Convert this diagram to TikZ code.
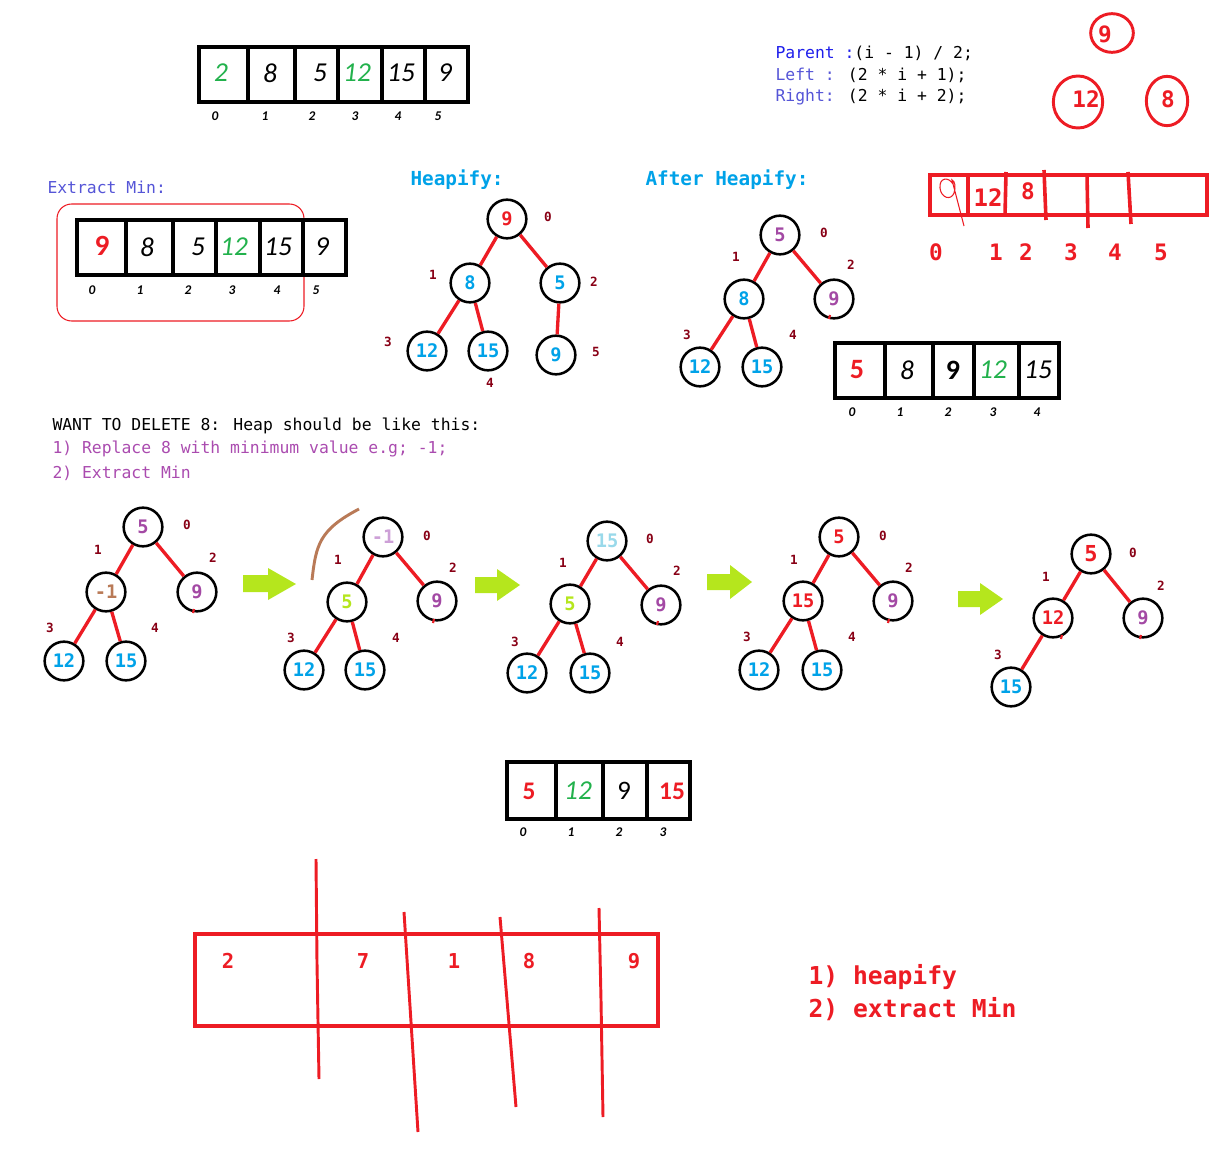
\documentclass[tikz,border=0pt]{standalone}
\usepackage{fontspec}
\setmainfont{Carlito}
\newfontfamily\consfont{DejaVu Sans Mono}
\usetikzlibrary{shapes.geometric}

\definecolor{pred}{RGB}{237,28,36}
\definecolor{pgreen}{RGB}{34,177,76}
\definecolor{pblue}{RGB}{0,162,232}
\definecolor{ppurple}{RGB}{163,73,164}
\definecolor{pdarkred}{RGB}{136,0,21}
\definecolor{pbrown}{RGB}{185,122,87}
\definecolor{plime}{RGB}{181,230,29}
\definecolor{plightblue}{RGB}{153,217,234}
\definecolor{plilac}{RGB}{205,160,215}
\definecolor{codeblue}{RGB}{30,30,235}
\definecolor{codepurple}{RGB}{85,85,215}
\definecolor{notepurple}{RGB}{170,75,175}

\tikzset{every picture/.style={line width=0.75pt}}
\tikzset{
  heapnode/.style={circle, draw=black, line width=1.9pt, minimum size=29pt, inner sep=0pt,
    font=\consfont\bfseries\fontsize{14}{14}\selectfont},
  heapedge/.style={draw=pred, line width=2.5pt},
  heaptick/.style={draw=pred, line width=1.6pt},
  idxlabel/.style={text=pdarkred, font=\consfont\bfseries\fontsize{9.5}{9.5}\selectfont},
  cellline/.style={draw=black, line width=3.3pt},
  arrdigit/.style={font=\itshape\fontsize{20.5}{20.5}\selectfont},
  arrbold/.style={font=\bfseries\fontsize{22}{22}\selectfont},
  arrindex/.style={font=\bfseries\itshape\fontsize{10}{10}\selectfont},
  codeline/.style={anchor=west, inner sep=0pt, font=\consfont\fontsize{12.3}{12.3}\selectfont},
  titleline/.style={anchor=west, inner sep=0pt, text=pblue, font=\consfont\bfseries\fontsize{14.5}{14.5}\selectfont},
  redpen/.style={draw=pred, line width=2.7pt},
  redring/.style={ellipse, draw=pred, line width=2.2pt, inner sep=0pt},
  reddigit/.style={text=pred, font=\consfont\bfseries\fontsize{17}{17}\selectfont},
  greenarrow/.style={fill=plime, draw=none},
}

\begin{document}
\begin{tikzpicture}[x=0.75pt,y=0.75pt,yscale=-1,xscale=1]
	\useasboundingbox (0,0) rectangle (1231,1169);

	%Shape: Array (top)
	\draw[cellline] (199,47) rectangle (468,102);
	\draw[cellline] (248,47) -- (248,102) (295,47) -- (295,102) (338,47) -- (338,102) (382,47) -- (382,102) (425,47) -- (425,102);
	% Text Node
	\draw (221,73) node[arrdigit, text=pgreen] (ta0) {2};
	\draw (270,73) node[arrdigit] (ta1) {8};
	\draw (320,73) node[arrdigit] (ta2) {5};
	\draw (357,73) node[arrdigit, text=pgreen] (ta3) {12};
	\draw (401,73) node[arrdigit] (ta4) {15};
	\draw (445,73) node[arrdigit] (ta5) {9};
	% Text Node
	\draw (215,116) node[arrindex] (ti0) {0};
	\draw (265,116) node[arrindex] (ti1) {1};
	\draw (312,116) node[arrindex] (ti2) {2};
	\draw (355,116) node[arrindex] (ti3) {3};
	\draw (398,116) node[arrindex] (ti4) {4};
	\draw (438,116) node[arrindex] (ti5) {5};

	% Text Node
	\draw (775,53) node[codeline] (parent) {\textcolor{codeblue}{Parent :}(i - 1) / 2;};
	\draw (775,75) node[codeline] (left) {\textcolor{codepurple}{Left :} (2 * i + 1);};
	\draw (775,97) node[codeline] (right) {\textcolor{codepurple}{Right:} (2 * i + 2);};

	%Shape: Ellipse
	\draw (1112,33) node[redring, minimum width=32pt, minimum height=29pt] (ring9) {};
	\draw (1078,102) node[redring, minimum width=37pt, minimum height=39pt] (ring12) {};
	\draw (1167,101) node[redring, minimum width=31pt, minimum height=37pt] (ring8) {};
	% Text Node
	\draw (1105,34) node[reddigit] (ringt9) {9};
	\draw (1086,99) node[reddigit] (ringt12) {12};
	\draw (1168,99) node[reddigit] (ringt8) {8};

	% Text Node
	\draw (47,187) node[codeline, text=codepurple] (extract) {Extract Min:};
	%Rounded Rect
	\draw[pred, line width=0.8pt, rounded corners=11pt] (57,204) rectangle (304,321);
	%Shape: Array (extract min)
	\draw[cellline] (77,220) rectangle (346,275);
	\draw[cellline] (126,220) -- (126,275) (173,220) -- (173,275) (216,220) -- (216,275) (260,220) -- (260,275) (303,220) -- (303,275);
	% Text Node
	\draw (102,246) node[arrbold, text=pred] (ea0) {9};
	\draw (147,247) node[arrdigit] (ea1) {8};
	\draw (198,247) node[arrdigit] (ea2) {5};
	\draw (234,247) node[arrdigit, text=pgreen] (ea3) {12};
	\draw (278,247) node[arrdigit] (ea4) {15};
	\draw (322,247) node[arrdigit] (ea5) {9};
	% Text Node
	\draw (92,290) node[arrindex] (ei0) {0};
	\draw (140,290) node[arrindex] (ei1) {1};
	\draw (188,290) node[arrindex] (ei2) {2};
	\draw (232,290) node[arrindex] (ei3) {3};
	\draw (277,290) node[arrindex] (ei4) {4};
	\draw (316,290) node[arrindex] (ei5) {5};

	% Text Node
	\draw (410,180) node[titleline] (heapify) {Heapify:};
	%Shape: Circle
	\draw (507,219) node[heapnode, text=pred] (h0) {9};
	\draw (470,283) node[heapnode, text=pblue] (h1) {8};
	\draw (560,283) node[heapnode, text=pblue] (h2) {5};
	\draw (427,351) node[heapnode, text=pblue] (h3) {12};
	\draw (488,351) node[heapnode, text=pblue] (h4) {15};
	\draw (556,355) node[heapnode, text=pblue] (h5) {9};
	%Straight Lines
	\draw[heapedge] (h0) -- (h1);
	\draw[heapedge] (h0) -- (h2);
	\draw[heapedge] (h1) -- (h3);
	\draw[heapedge] (h1) -- (h4);
	\draw[heapedge] (h2) -- (h5);
	% Text Node
	\draw (548,217) node[idxlabel] (hi0) {0};
	\draw (433,275) node[idxlabel] (hi1) {1};
	\draw (594,282) node[idxlabel] (hi2) {2};
	\draw (388,342) node[idxlabel] (hi3) {3};
	\draw (490,383) node[idxlabel] (hi4) {4};
	\draw (596,352) node[idxlabel] (hi5) {5};

	% Text Node
	\draw (645,180) node[titleline] (after) {After Heapify:};
	%Shape: Circle
	\draw (780,235) node[heapnode, text=ppurple] (a0) {5};
	\draw (744,299) node[heapnode, text=pblue] (a1) {8};
	\draw (834,299) node[heapnode, text=ppurple] (a2) {9};
	\draw (700,367) node[heapnode, text=pblue] (a3) {12};
	\draw (762,367) node[heapnode, text=pblue] (a4) {15};
	%Straight Lines
	\draw[heapedge] (a0) -- (a1);
	\draw[heapedge] (a0) -- (a2);
	\draw[heapedge] (a1) -- (a3);
	\draw[heapedge] (a1) -- (a4);
	\draw[heaptick] (830,315) -- (829,319);
	% Text Node
	\draw (824,233) node[idxlabel] (ai0) {0};
	\draw (736,257) node[idxlabel] (ai1) {1};
	\draw (851,265) node[idxlabel] (ai2) {2};
	\draw (687,335) node[idxlabel] (ai3) {3};
	\draw (793,335) node[idxlabel] (ai4) {4};

	%Shape: Red hand array
	\draw[redpen] (930,175) rectangle (1207,215);
	\draw[redpen] (968,175) -- (968,215);
	\draw[redpen] (1006,172) -- (1005,216);
	\draw[redpen] (1044,170) -- (1046,220);
	\draw[redpen] (1087,175) -- (1088,228);
	\draw[redpen] (1128,172) -- (1131,224);
	\draw[pred, line width=0.8pt] (953,184) .. controls (948,176) and (939,178) .. (940,188) .. controls (941,198) and (951,201) .. (954,193) .. controls (956,187) and (955,181) .. (952,180) -- (964,226);
	% Text Node
	\draw (988,198) node[reddigit, font=\consfont\bfseries\fontsize{18}{18}\selectfont] (rc1) {12};
	\draw (1028,191) node[reddigit] (rc2) {8};
	% Text Node
	\draw (936,252) node[reddigit] (ri0) {0};
	\draw (996,252) node[reddigit] (ri1) {1};
	\draw (1026,252) node[reddigit] (ri2) {2};
	\draw (1071,252) node[reddigit] (ri3) {3};
	\draw (1115,252) node[reddigit] (ri4) {4};
	\draw (1161,252) node[reddigit] (ri5) {5};

	%Shape: Array (after heapify)
	\draw[cellline] (835,343) rectangle (1059,398);
	\draw[cellline] (885,343) -- (885,398) (933,343) -- (933,398) (974,343) -- (974,398) (1019,343) -- (1019,398);
	% Text Node
	\draw (857,370) node[arrbold, text=pred, font=\bfseries\fontsize{21}{21}\selectfont] (fa0) {5};
	\draw (907,370) node[arrdigit] (fa1) {8};
	\draw (953,370) node[arrbold, font=\bfseries\fontsize{21}{21}\selectfont] (fa2) {9};
	\draw (993,370) node[arrdigit, text=pgreen] (fa3) {12};
	\draw (1038,370) node[arrdigit] (fa4) {15};
	% Text Node
	\draw (852,412) node[arrindex] (fi0) {0};
	\draw (900,412) node[arrindex] (fi1) {1};
	\draw (948,412) node[arrindex] (fi2) {2};
	\draw (993,412) node[arrindex] (fi3) {3};
	\draw (1037,412) node[arrindex] (fi4) {4};

	% Text Node
	\draw (52,426) node[codeline] (want) {WANT TO DELETE 8: Heap should be like this:};
	\draw (52,449) node[codeline, text=notepurple] (step1) {1) Replace 8 with minimum value e.g; -1;};
	\draw (52,473) node[codeline, text=notepurple] (step2) {2) Extract Min};

	%Shape: Circle (tree A)
	\draw (143,527) node[heapnode, text=ppurple] (s0) {5};
	\draw (106,592) node[heapnode, text=pbrown] (s1) {-1};
	\draw (197,592) node[heapnode, text=ppurple] (s2) {9};
	\draw (64,661) node[heapnode, text=pblue] (s3) {12};
	\draw (126,661) node[heapnode, text=pblue] (s4) {15};
	\draw[heapedge] (s0) -- (s1);
	\draw[heapedge] (s0) -- (s2);
	\draw[heapedge] (s1) -- (s3);
	\draw[heapedge] (s1) -- (s4);
	\draw[heaptick] (194,609) -- (193,613);
	\draw (187,525) node[idxlabel] (si0) {0};
	\draw (98,550) node[idxlabel] (si1) {1};
	\draw (213,558) node[idxlabel] (si2) {2};
	\draw (50,628) node[idxlabel] (si3) {3};
	\draw (155,628) node[idxlabel] (si4) {4};

	%Shape: Arrow
	\fill[greenarrow] (243,575) -- (268,575) -- (268,568) -- (296,584) -- (268,600) -- (268,592) -- (243,592) -- cycle;

	%Curve Lines
	\draw[pbrown, line width=2.2pt] (312,580) .. controls (316,545) and (319,530) .. (359,509);
	%Shape: Circle (tree B)
	\draw (383,537) node[heapnode, text=plilac] (t0) {-1};
	\draw (347,602) node[heapnode, text=plime] (t1) {5};
	\draw (437,601) node[heapnode, text=ppurple] (t2) {9};
	\draw (304,670) node[heapnode, text=pblue] (t3) {12};
	\draw (365,670) node[heapnode, text=pblue] (t4) {15};
	\draw[heapedge] (t0) -- (t1);
	\draw[heapedge] (t0) -- (t2);
	\draw[heapedge] (t1) -- (t3);
	\draw[heapedge] (t1) -- (t4);
	\draw[heaptick] (434,619) -- (433,623);
	\draw (427,536) node[idxlabel] (ti0b) {0};
	\draw (338,560) node[idxlabel] (ti1b) {1};
	\draw (453,568) node[idxlabel] (ti2b) {2};
	\draw (291,638) node[idxlabel] (ti3b) {3};
	\draw (396,638) node[idxlabel] (ti4b) {4};

	%Shape: Arrow
	\fill[greenarrow] (475,577) -- (497,577) -- (497,569) -- (520,585) -- (497,601) -- (497,593) -- (475,593) -- cycle;

	%Shape: Circle (tree C)
	\draw (607,541) node[heapnode, text=plightblue] (u0) {15};
	\draw (570,604) node[heapnode, text=plime] (u1) {5};
	\draw (661,605) node[heapnode, text=ppurple] (u2) {9};
	\draw (527,673) node[heapnode, text=pblue] (u3) {12};
	\draw (590,673) node[heapnode, text=pblue] (u4) {15};
	\draw[heapedge] (u0) -- (u1);
	\draw[heapedge] (u0) -- (u2);
	\draw[heapedge] (u1) -- (u3);
	\draw[heapedge] (u1) -- (u4);
	\draw[heaptick] (658,621) -- (657,625);
	\draw (650,539) node[idxlabel] (ui0) {0};
	\draw (563,563) node[idxlabel] (ui1) {1};
	\draw (677,571) node[idxlabel] (ui2) {2};
	\draw (515,642) node[idxlabel] (ui3) {3};
	\draw (620,642) node[idxlabel] (ui4) {4};

	%Shape: Arrow
	\fill[greenarrow] (707,574) -- (730,574) -- (730,565) -- (752,582) -- (730,599) -- (730,590) -- (707,590) -- cycle;

	%Shape: Circle (tree D)
	\draw (839,537) node[heapnode, text=pred] (v0) {5};
	\draw (803,601) node[heapnode, text=pred] (v1) {15};
	\draw (893,601) node[heapnode, text=ppurple] (v2) {9};
	\draw (759,670) node[heapnode, text=pblue] (v3) {12};
	\draw (822,670) node[heapnode, text=pblue] (v4) {15};
	\draw[heapedge] (v0) -- (v1);
	\draw[heapedge] (v0) -- (v2);
	\draw[heapedge] (v1) -- (v3);
	\draw[heapedge] (v1) -- (v4);
	\draw[heaptick] (889,619) -- (888,623);
	\draw (883,536) node[idxlabel] (vi0) {0};
	\draw (794,560) node[idxlabel] (vi1) {1};
	\draw (909,568) node[idxlabel] (vi2) {2};
	\draw (747,637) node[idxlabel] (vi3) {3};
	\draw (852,637) node[idxlabel] (vi4) {4};

	%Shape: Arrow
	\fill[greenarrow] (958,591) -- (980,591) -- (980,583) -- (1003,599) -- (980,615) -- (980,607) -- (958,607) -- cycle;

	%Shape: Circle (tree E)
	\draw (1091,554) node[heapnode, text=pred, font=\consfont\bfseries\fontsize{16.5}{16.5}\selectfont] (w0) {5};
	\draw (1053,618) node[heapnode, text=pred] (w1) {12};
	\draw (1143,618) node[heapnode, text=ppurple] (w2) {9};
	\draw (1011,687) node[heapnode, text=pblue] (w3) {15};
	\draw[heapedge] (w0) -- (w1);
	\draw[heapedge] (w0) -- (w2);
	\draw[heapedge] (w1) -- (w3);
	\draw[heaptick] (1141,635) -- (1140,639);
	\draw[heaptick] (1062,635) -- (1061,639);
	\draw (1133,553) node[idxlabel] (wi0) {0};
	\draw (1046,577) node[idxlabel] (wi1) {1};
	\draw (1161,586) node[idxlabel] (wi2) {2};
	\draw (998,655) node[idxlabel] (wi3) {3};

	%Shape: Array (result)
	\draw[cellline] (507,762) rectangle (690,819);
	\draw[cellline] (556,762) -- (556,819) (603,762) -- (603,819) (647,762) -- (647,819);
	% Text Node
	\draw (529,791) node[arrbold, text=pred, font=\bfseries\fontsize{19}{19}\selectfont] (ra0) {5};
	\draw (578,791) node[arrdigit, text=pgreen] (ra1) {12};
	\draw (624,791) node[font=\fontsize{20}{20}\selectfont] (ra2) {9};
	\draw (672,791) node[arrbold, text=pred, font=\bfseries\fontsize{19}{19}\selectfont] (ra3) {15};
	% Text Node
	\draw (523,832) node[arrindex] (ri0b) {0};
	\draw (571,832) node[arrindex] (ri1b) {1};
	\draw (619,832) node[arrindex] (ri2b) {2};
	\draw (663,832) node[arrindex] (ri3b) {3};

	%Shape: Red box (bottom)
	\draw[redpen] (195,934) rectangle (658,1026);
	\draw[redpen, line width=2.2pt] (316,859) -- (317,963) -- (319,1079);
	\draw[redpen, line width=2.2pt] (404,912) -- (418,1132);
	\draw[redpen, line width=2.2pt] (500,917) -- (516,1107);
	\draw[redpen, line width=2.2pt] (599,908) -- (601,1000) -- (603,1117);
	% Text Node
	\draw (228,961) node[reddigit, font=\consfont\bfseries\fontsize{15.4}{15.4}\selectfont] (bx0) {2};
	\draw (363,961) node[reddigit, font=\consfont\bfseries\fontsize{15.4}{15.4}\selectfont] (bx1) {7};
	\draw (454,961) node[reddigit, font=\consfont\bfseries\fontsize{15.4}{15.4}\selectfont] (bx2) {1};
	\draw (529,961) node[reddigit, font=\consfont\bfseries\fontsize{15.4}{15.4}\selectfont] (bx3) {8};
	\draw (634,961) node[reddigit, font=\consfont\bfseries\fontsize{15.4}{15.4}\selectfont] (bx4) {9};

	% Text Node
	\draw (808,977) node[reddigit, anchor=west, inner sep=0pt, font=\consfont\bfseries\fontsize{18.5}{18.5}\selectfont] (plan1) {1) heapify};
	\draw (808,1009) node[reddigit, anchor=west, inner sep=0pt, font=\consfont\bfseries\fontsize{18.5}{18.5}\selectfont] (plan2) {2) extract Min};

\end{tikzpicture}
\end{document}
